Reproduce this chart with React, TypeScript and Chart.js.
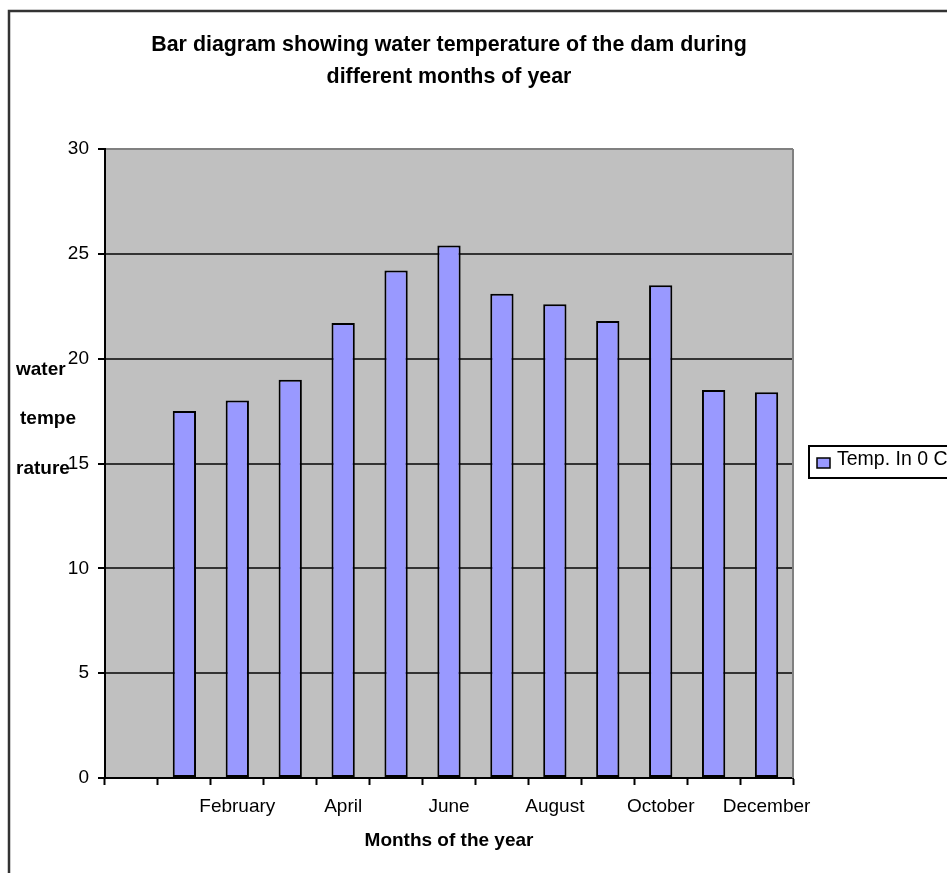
import React, { useEffect, useRef } from 'react';
import { Chart, registerables } from 'chart.js';

Chart.register(...registerables);

const chartTitle = ['Bar diagram showing water temperature of the dam during', 'different months of year'];
const categories = ['', 'January', 'February', 'March', 'April', 'May', 'June', 'July', 'August', 'September', 'October', 'November', 'December'];
const temperatures: (number | null)[] = [null, 17.5, 18.0, 19.0, 21.7, 24.2, 25.4, 23.1, 22.6, 21.8, 23.5, 18.5, 18.4];
const seriesLabel = 'Temp. In 0 C';
const yTitleLines = ['water', 'tempe', 'rature'];
const xTitle = 'Months of the year';
const yMin = 0;
const yMax = 30;
const yStep = 5;

const FONT = '"Liberation Sans", Arial, Helvetica, sans-serif';
const BAR_COLOR = '#9999FF';

const decor = {
  id: 'decor',
  beforeDraw(chart: any) {
    const { ctx, chartArea: a } = chart;
    ctx.save();
    ctx.fillStyle = '#C0C0C0';
    ctx.fillRect(a.left, a.top, a.right - a.left, a.bottom - a.top);
    ctx.restore();
  },
  afterDraw(chart: any) {
    const { ctx, chartArea: a } = chart;
    ctx.save();
    // plot area right border
    ctx.strokeStyle = '#808080';
    ctx.lineWidth = 2;
    ctx.beginPath();
    ctx.moveTo(a.right, a.top);
    ctx.lineTo(a.right, a.bottom);
    ctx.stroke();
    // outer chart frame
    ctx.strokeStyle = '#333333';
    ctx.lineWidth = 2.5;
    ctx.strokeRect(9, 11, chart.width + 40, chart.height + 40);
    // y axis title (horizontal, three lines)
    ctx.fillStyle = '#000';
    ctx.font = `bold 19px ${FONT}`;
    ctx.textAlign = 'left';
    ctx.textBaseline = 'alphabetic';
    const yTitlePos = [
      [16, 375],
      [20, 424],
      [16, 474],
    ];
    yTitleLines.forEach((t, i) => ctx.fillText(t, yTitlePos[i][0], yTitlePos[i][1]));
    // legend
    const ds = chart.data.datasets[0];
    ctx.strokeStyle = '#000';
    ctx.lineWidth = 2;
    ctx.strokeRect(809, 446, 200, 32);
    ctx.fillStyle = ds.backgroundColor;
    ctx.fillRect(817, 458, 13, 10);
    ctx.lineWidth = 1.5;
    ctx.strokeRect(817, 458, 13, 10);
    ctx.fillStyle = '#000';
    ctx.font = `19.5px ${FONT}`;
    ctx.fillText(ds.label, 837, 465);
    ctx.restore();
  },
};

export default function App() {
  const ref = useRef<HTMLCanvasElement>(null);

  useEffect(() => {
    if (!ref.current) return;
    const chart = new Chart(ref.current, {
      type: 'bar',
      data: {
        labels: categories,
        datasets: [
          {
            label: seriesLabel,
            data: temperatures,
            backgroundColor: BAR_COLOR,
            borderColor: '#000',
            borderWidth: 2,
            borderSkipped: false,
            barPercentage: 0.44,
            categoryPercentage: 1,
          },
        ],
      },
      options: {
        responsive: false,
        animation: false,
        layout: { padding: { left: 0, right: 154, top: 0, bottom: 0 } },
        plugins: {
          legend: { display: false },
          tooltip: { enabled: false },
          title: {
            display: true,
            fullSize: false,
            text: chartTitle,
            color: '#000',
            font: { family: FONT, size: 21.4, weight: 'bold', lineHeight: 1.5 },
            padding: { top: 29, bottom: 55.8 },
          },
        },
        scales: {
          x: {
            offset: true,
            grid: {
              offset: true,
              drawOnChartArea: false,
              drawTicks: true,
              tickLength: 7,
              tickColor: '#000',
              tickWidth: 2,
              color: '#000',
            },
            border: { display: true, color: '#000', width: 2 },
            ticks: {
              autoSkip: false,
              maxRotation: 0,
              minRotation: 0,
              padding: 10,
              color: '#000',
              font: { family: FONT, size: 19 },
              callback: (_v: any, i: number) => (i % 2 === 0 ? categories[i] : ''),
            },
            title: {
              display: true,
              text: xTitle,
              color: '#000',
              font: { family: FONT, size: 19, weight: 'bold' },
              padding: { top: 0, bottom: 21 },
            },
            afterFit: (scale: any) => {
              scale.height = 95;
            },
          },
          y: {
            min: yMin,
            max: yMax,
            grid: {
              drawTicks: true,
              tickLength: 7,
              tickColor: '#000',
              lineWidth: 2,
              color: (c: any) => (c.tick && c.tick.value === yMax ? '#808080' : '#333333'),
            },
            border: { display: true, color: '#000', width: 2 },
            ticks: {
              stepSize: yStep,
              padding: 9,
              color: '#000',
              font: { family: FONT, size: 19 },
            },
            afterFit: (scale: any) => {
              scale.width = 105;
            },
          },
        },
      },
      plugins: [decor],
    } as any);
    return () => chart.destroy();
  }, []);

  return (
    <div style={{ position: 'absolute', left: 0, top: 0, width: 947, height: 873, background: '#fff' }}>
      <canvas ref={ref} width={947} height={873} style={{ display: 'block' }} />
    </div>
  );
}
